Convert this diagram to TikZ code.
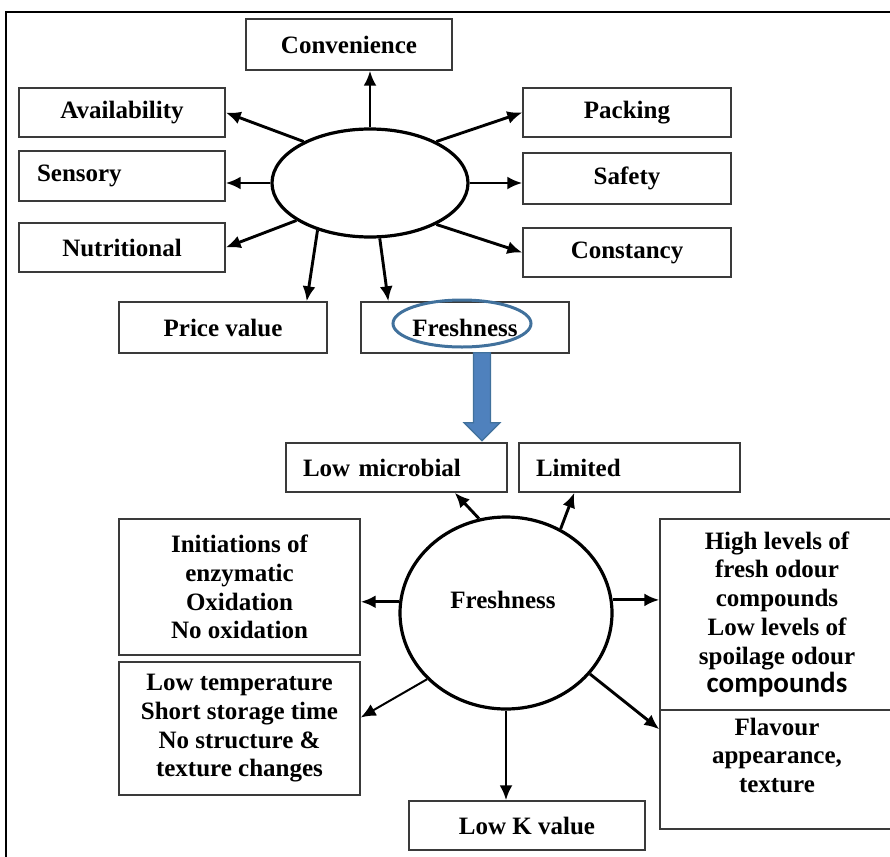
\documentclass[tikz,border=0pt]{standalone}
\usepackage{fontspec}
\setmainfont{Liberation Serif}
\newfontfamily\calibrifont{Carlito}
\usetikzlibrary{arrows.meta,calc,positioning,shapes.geometric}
\definecolor{ringblue}{HTML}{41719C}
\definecolor{arrowblue}{HTML}{4F81BD}
\definecolor{boxgray}{HTML}{3A3A3A}

\begin{document}
\begin{tikzpicture}[x=1pt,y=-1pt,>={Latex[length=15pt,width=13pt]},
  box/.style={draw=boxgray,line width=1.4pt,inner sep=0pt,align=center,
    font=\bfseries\fontsize{25}{28.7}\selectfont},
  lbox/.style={box,text width=#1,align=left},
  hubring/.style={draw,ellipse,line width=3.2pt,inner sep=0pt},
  link/.style={->,line width=2.9pt}]
\useasboundingbox (0,0) rectangle (890,856);
\draw[line width=1.5pt] (910,12) -- (6,12) -- (6,876);
% upper ring of quality attributes
\node[hubring,minimum width=196pt,minimum height=108pt] (hub) at (370,183) {};
\node[box,minimum width=206pt,minimum height=51pt] (conv) at (349,44.5) {Convenience};
\node[box,minimum width=206pt,minimum height=49pt] (avail) at (122,112.5) {Availability};
\node[lbox=170pt,minimum width=206pt,minimum height=50pt] (sens) at (122,176) {Sensory};
\node[box,minimum width=206pt,minimum height=49pt] (nutri) at (122,247.5) {Nutritional};
\node[box,minimum width=208pt,minimum height=49pt] (pack) at (627,112.5) {Packing};
\node[box,minimum width=208pt,minimum height=51pt] (safe) at (627,178.5) {Safety};
\node[box,minimum width=208pt,minimum height=49pt] (const) at (627,252.5) {Constancy};
\node[box,minimum width=208pt,minimum height=51pt] (price) at (223,327.5) {Price value};
\node[box,minimum width=208pt,minimum height=51pt] (fresh1) at (465,327.5) {Freshness};
\node[draw=ringblue,ellipse,line width=3pt,minimum width=138pt,minimum height=47pt] (ring) at (462,323.5) {};
\draw[link] (hub.north) -- (hub.north |- conv.south);
\draw[link] (hub.148) -- (avail.east);
\draw[link] (hub.west) -- (hub.west -| sens.east);
\draw[link] (hub.207) -- (nutri.east);
\draw[link] (hub.222) -- ($(price.north east)+(-21,0)$);
\draw[link] (hub.280) -- ($(fresh1.north west)+(28,0)$);
\draw[link] (hub.32) -- (pack.west);
\draw[link] (hub.east) -- (hub.east -| safe.west);
\draw[link] (hub.328) -- (const.west);
% block arrow down to the freshness detail
\coordinate (bigtop) at ($(fresh1.south)+(17,-1)$);
\filldraw[fill=arrowblue,draw=ringblue,line width=1.2pt] (bigtop) ++(-8.5,0) -- ++(17,0) -- ++(0,70)
  -- ++(9.5,0) -- ++(-18,18) -- ++(-18,-18) -- ++(9.5,0) -- cycle;
% lower ring: what freshness means
\node[hubring,minimum width=212pt,minimum height=192pt,
  label={[name=freshlbl,font=\bfseries\fontsize{25}{28.7}\selectfont,xshift=-3pt,yshift=13pt]center:Freshness}]
  (fresh2) at (506,613) {};
\node[lbox=187pt,minimum width=221pt,minimum height=49pt] (micro) at (396.5,467.5) {Low microbial};
\node[lbox=187pt,minimum width=221pt,minimum height=49pt] (limit) at (629.5,467.5) {Limited};
\node[box,minimum width=241pt,minimum height=136pt] (init) at (239.5,587)
  {Initiations of\\enzymatic\\Oxidation\\No oxidation};
\node[box,minimum width=241pt,minimum height=133pt] (temp) at (239.5,728.5)
  {Low temperature\\Short storage time\\No structure \&\\texture changes};
\node[box,minimum width=234pt,minimum height=191pt] (high) at (777,614.5)
  {High levels of\\fresh odour\\compounds\\Low levels of\\spoilage odour\\{\calibrifont\fontsize{29}{30}\selectfont compounds}};
\node[box,minimum width=234pt,minimum height=119pt] (flav) at (777,769.5)
  {Flavour\\appearance,\\texture\\\mbox{}};
\node[box,minimum width=236pt,minimum height=49pt] (lowk) at (527,825.5) {Low K value};
\draw[link] (fresh2.106) -- ($(micro.south east)+(-53,0)$);
\draw[link] (fresh2.57) -- ($(limit.south west)+(56,0)$);
\draw[link] (fresh2.174) -- (fresh2.174 -| init.east);
\draw[link] (fresh2.7) -- (fresh2.7 -| high.west);
\draw[link,line width=2pt] (fresh2.220) -- ($(temp.east)+(0,-11)$);
\draw[link] (fresh2.south) -- (fresh2.south |- lowk.north);
\draw[link] (fresh2.324) -- ($(flav.north west)+(0,20)$);
\end{tikzpicture}
\end{document}
